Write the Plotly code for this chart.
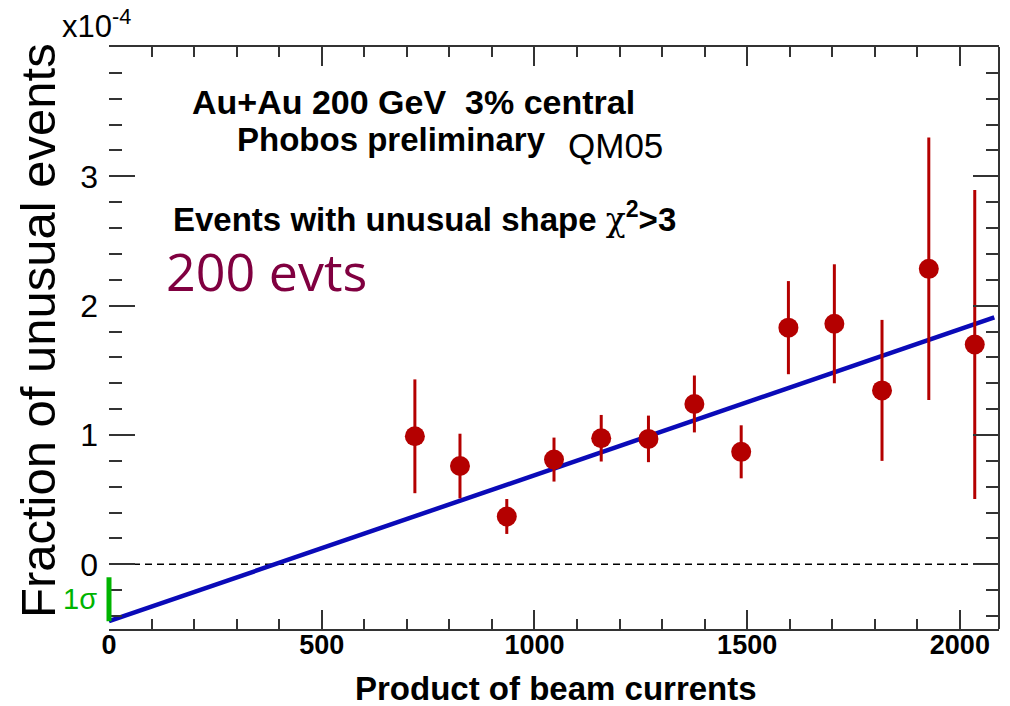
import plotly.graph_objects as go

# ---- data (values in units of 1e-4) ----
beam_product = [719, 825, 935, 1046, 1157, 1268, 1376, 1486, 1597, 1705, 1817, 1927, 2035]
fraction = [0.99, 0.76, 0.37, 0.81, 0.975, 0.97, 1.24, 0.87, 1.83, 1.86, 1.345, 2.285, 1.70]
fraction_err = [0.44, 0.25, 0.135, 0.17, 0.18, 0.18, 0.22, 0.205, 0.36, 0.46, 0.545, 1.015, 1.195]

fit_x = [0, 2081]
fit_y = [-0.44, 1.91]

sigma_low = -0.44
sigma_high = -0.10

x_range = [0, 2092]
y_range = [-0.5, 4.0]
y_tickvals = [0, 1, 2, 3, 4]
y_ticktext = ["0", "1", "2", "3", ""]

FONT = "Liberation Sans, Arial, Helvetica, sans-serif"
RED = "#b40000"
BLUE = "#0a0ab8"
GREEN = "#00b400"
AXC = "#333333"

W, H = 1010, 706
L, R, T, B = 109, 999, 47, 629


def px(xp):
    return (xp - L) / (R - L)


def py(yp):
    return (B - yp) / (B - T)


fig = go.Figure()

# fit line
fig.add_trace(go.Scatter(x=fit_x, y=fit_y, mode="lines",
                         line=dict(color=BLUE, width=4.5), showlegend=False,
                         hoverinfo="skip"))

# data points
fig.add_trace(go.Scatter(
    x=beam_product, y=fraction, mode="markers",
    marker=dict(color=RED, size=20, symbol="circle"),
    error_y=dict(type="data", array=fraction_err, visible=True,
                 color=RED, thickness=3, width=0),
    showlegend=False, cliponaxis=False))

fig.update_layout(
    width=W, height=H,
    margin=dict(l=L, r=W - R, t=T, b=H - B, pad=0),
    paper_bgcolor="white", plot_bgcolor="white",
    font=dict(family=FONT, color="black"),
    xaxis=dict(
        range=x_range, tickmode="linear", tick0=0, dtick=500,
        ticks="inside", ticklen=19, tickwidth=2, tickcolor=AXC,
        showline=True, linecolor=AXC, linewidth=2, mirror="allticks",
        showgrid=False, zeroline=False,
        tickfont=dict(family=FONT, size=27, color="black", weight="bold"),
        ticklabelstandoff=-9,
        minor=dict(tickmode="linear", tick0=0, dtick=100, ticks="inside",
                   ticklen=10, tickwidth=2, tickcolor=AXC, showgrid=False),
    ),
    yaxis=dict(
        range=y_range, tickmode="array", tickvals=y_tickvals, ticktext=y_ticktext,
        ticks="inside", ticklen=26, tickwidth=2, tickcolor=AXC,
        showline=False, mirror="ticks",
        showgrid=False, zeroline=False,
        tickfont=dict(family=FONT, size=32, color="black"),
        ticklabelstandoff=10,
        minor=dict(tickmode="linear", tick0=0, dtick=0.2, ticks="inside",
                   ticklen=13, tickwidth=2, tickcolor=AXC, showgrid=False),
    ),
)

# dashed zero line
fig.add_shape(type="line", xref="paper", yref="y", x0=0, x1=1, y0=0, y1=0,
              line=dict(color="black", width=1.5, dash="7px,5px"), layer="below")
# right frame line
fig.add_shape(type="line", xref="paper", yref="paper", x0=1, x1=1, y0=0, y1=1,
              line=dict(color=AXC, width=2))
# 1 sigma systematic bar at the left axis
fig.add_shape(type="line", xref="paper", yref="y", x0=0, x1=0,
              y0=sigma_low, y1=sigma_high, line=dict(color=GREEN, width=5))


def ann(text, x, y, size, xanchor="left", yanchor="middle", color="black",
        family=FONT, angle=0):
    fig.add_annotation(text=text, xref="paper", yref="paper", x=px(x), y=py(y),
                       xanchor=xanchor, yanchor=yanchor, showarrow=False,
                       textangle=angle,
                       font=dict(family=family, size=size, color=color))


ann("<b>Au+Au 200 GeV&nbsp; 3% central</b>", 190, 102, 34)
ann("<b>Phobos preliminary</b>", 235, 139, 33)
ann("QM05", 566, 146, 35)
ann("<b>Events with unusual shape </b><span style='font-family:DejaVu Serif'>χ</span><b><sup>2</sup>&gt;3</b>",
    171, 218, 33)
ann("200 evts", 164, 270, 52, color="#800040", family="Open Sans, sans-serif")
ann("1σ", 99, 599, 29, xanchor="right", color=GREEN)
ann("x10<sup>-4</sup>", 60, 24, 31)
ann("Fraction of unusual events", 38, 331, 49, xanchor="center", angle=-90)
ann("<b>Product of beam currents</b>", 556, 688, 33, xanchor="center")

fig.write_html("out.html")
